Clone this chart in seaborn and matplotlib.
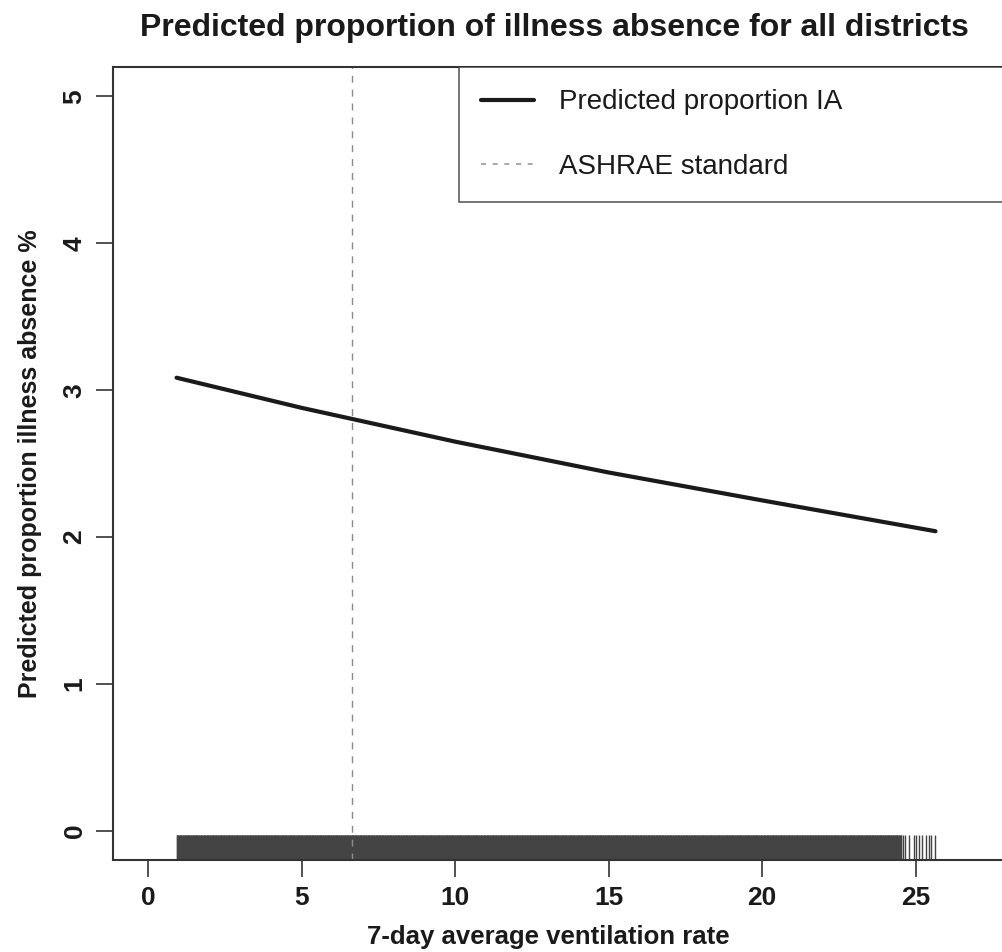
import numpy as np
import pandas as pd
import matplotlib
matplotlib.use("Agg")
import matplotlib.pyplot as plt
import seaborn as sns
from matplotlib.lines import Line2D

# ---- data ----
vent_rate = [0.93, 5.0, 10.0, 15.0, 20.0, 25.65]
pred_ia = [3.085, 2.88, 2.65, 2.44, 2.25, 2.04]
ashrae_standard = 6.65
# observed ventilation rates (rug): dense block plus the sparse upper tail
rug_dense_start = 0.93
rug_dense_end = 24.55
rug_tail = [24.58, 24.67, 24.80, 24.96, 25.02, 25.11, 25.22, 25.33, 25.43, 25.51, 25.62]
x_ticks = [0, 5, 10, 15, 20, 25]
y_ticks = [0, 1, 2, 3, 4, 5]
legend_labels = ["Predicted proportion IA", "ASHRAE standard"]

sns.set_theme(style="white")
plt.rcParams["font.family"] = ["Liberation Sans", "DejaVu Sans"]

W, H = 1003, 952
AX_L, AX_R, AX_T, AX_B = 113, 1058, 67, 860
fig = plt.figure(figsize=(W / 100, H / 100), dpi=100)
ax = fig.add_axes([AX_L / W, 1 - AX_B / H, (AX_R - AX_L) / W, (AX_B - AX_T) / H])

df = pd.DataFrame({"x": vent_rate, "y": pred_ia})
sns.lineplot(data=df, x="x", y="y", ax=ax, color="#1a1a1a", linewidth=3)

rug_vals = np.concatenate([np.arange(rug_dense_start, rug_dense_end, 0.02), rug_tail])
sns.rugplot(x=rug_vals, ax=ax, height=0.0315, color="#444444", linewidth=1.0, expand_margins=False)

ax.axvline(ashrae_standard, color="#8a8a8a", linestyle=(0, (5, 5)), linewidth=1.0)

ax.set_xlim(-1.14, 29.64)
ax.set_ylim(-0.198, 5.2)
ax.set_xticks(x_ticks)
ax.set_yticks(y_ticks)
ax.set_xticklabels([str(v) for v in x_ticks], fontsize=19, fontweight="bold", color="#1a1a1a")
ax.set_yticklabels([str(v) for v in y_ticks], fontsize=19, fontweight="bold", color="#1a1a1a",
                   rotation=90, va="center")
ax.tick_params(axis="both", which="major", length=12, width=1.2, color="#333333",
               bottom=True, left=True, pad=7)
for s in ax.spines.values():
    s.set_color("#333333")
    s.set_linewidth(1.5)

ax.set_xlabel("7-day average ventilation rate", fontsize=18.5, fontweight="bold", color="#1a1a1a")
ax.set_ylabel("Predicted proportion illness absence %", fontsize=18, fontweight="bold", color="#1a1a1a")
ax.xaxis.set_label_coords((548 - AX_L) / (AX_R - AX_L), (AX_B - 925) / (AX_B - AX_T))
ax.yaxis.set_label_coords((42 - AX_L) / (AX_R - AX_L), 0.5)
fig.text(554 / W, 1 - 28 / H, "Predicted proportion of illness absence for all districts",
         ha="center", va="center", fontsize=23, fontweight="bold", color="#1a1a1a")

handles = [Line2D([0], [0], color="#1a1a1a", linewidth=3),
           Line2D([0], [0], color="#9a9a9a", linestyle=(0, (3, 4)), linewidth=1.2)]
x0 = (459 - AX_L) / (AX_R - AX_L)
leg = ax.legend(handles, legend_labels, loc="upper left",
                bbox_to_anchor=(x0, 0, 1 - x0, 1.0),
                mode="expand", fontsize=20, frameon=True, fancybox=False, handlelength=1.9,
                handletextpad=0.9, borderpad=0.8, labelspacing=1.4, borderaxespad=0)
leg.get_frame().set_edgecolor("#333333")
leg.get_frame().set_linewidth(1.2)
for t in leg.get_texts():
    t.set_color("#1a1a1a")

fig.savefig("out.png", dpi=100)
